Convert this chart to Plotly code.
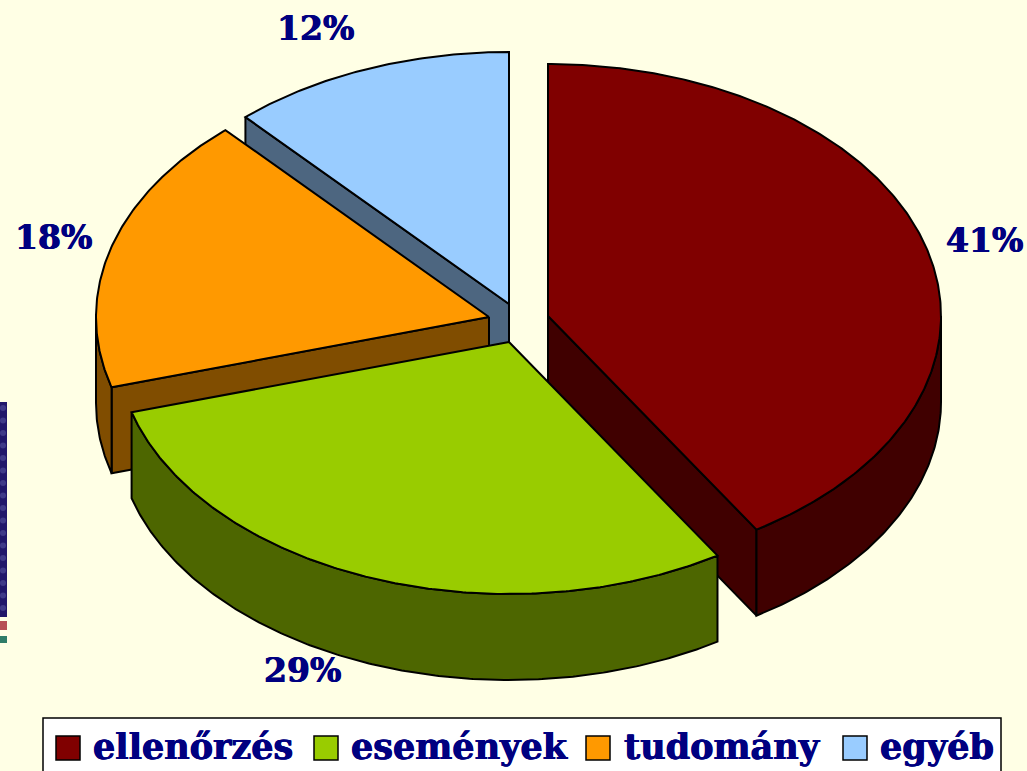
import numpy as np
import plotly.graph_objects as go

categories = ["ellenőrzés", "események", "tudomány", "egyéb"]
values = [41.1, 29.4, 17.8, 11.7]
top_colors = ["#800000", "#99CC00", "#FF9900", "#99CCFF"]
wall_colors = ["#400000", "#4D6600", "#804D00", "#4D6680"]
# apex of each exploded slice, in picture pixels
apex_x = [548, 509, 489, 509]
apex_y = [316, 342, 317, 304]
label_x = [984, 302, 53, 315]
label_y = [240, 670, 237, 28]
legend_swatch_x = [56, 314, 586, 843]
legend_text_x = [91, 349, 622, 878]

RX, RY, DEPTH = 393, 252, 86
BG = "#FFFFE5"
NAVY = "#000080"
HEAVY = "0.6px 0 0 #000080, -0.4px 0 0 #000080"

fig = go.Figure()

def poly(xs, ys, color):
    fig.add_trace(go.Scatter(x=xs, y=ys, mode="lines", fill="toself", fillcolor=color,
                             line=dict(color="black", width=2), hoverinfo="skip", showlegend=False))

def rim(cx, cy, a0, a1):
    t = np.radians(np.linspace(a0, a1, max(3, int(abs(a1 - a0) * 2))))
    return cx + RX * np.sin(t), cy - RY * np.cos(t)

edges = np.concatenate([[0], np.cumsum(values)]) * 3.6

def slice_draw(i):
    a0, a1 = edges[i], edges[i + 1]
    cx, cy, top, wall = apex_x[i], apex_y[i], top_colors[i], wall_colors[i]
    for ang in (a0, a1):
        s = ang % 360
        visible = (ang == a1 and 0 < s < 180) or (ang == a0 and 180 < s < 360)
        if visible:
            ex, ey = rim(cx, cy, ang, ang)
            ex, ey = ex[0], ey[0]
            poly([cx, ex, ex, cx, cx], [cy, ey, ey + DEPTH, cy + DEPTH, cy], wall)
    # outer wall: the lower half of the rim only
    lo, hi = max(a0, 90), min(a1, 270)
    if lo < hi:
        rx_, ry_ = rim(cx, cy, lo, hi)
        poly(np.concatenate([rx_, rx_[::-1], rx_[:1]]),
             np.concatenate([ry_, ry_[::-1] + DEPTH, ry_[:1]]), wall)
    rx_, ry_ = rim(cx, cy, a0, a1)
    poly(np.concatenate([[cx], rx_, [cx]]), np.concatenate([[cy], ry_, [cy]]), top)

for i in [3, 2, 0, 1]:
    slice_draw(i)

# faint texture of the decorative strip at the left edge
strip_y = np.arange(408, 616, 12.5)
fig.add_trace(go.Scatter(x=np.full(strip_y.shape, 3), y=strip_y, mode="markers",
                         marker=dict(size=6, color="#3F3A88"), hoverinfo="skip", showlegend=False))

annotations = []
for i, v in enumerate(values):
    annotations.append(dict(x=label_x[i], y=label_y[i], text=f"{round(v)}%", showarrow=False,
                            xanchor="center", yanchor="middle",
                            font=dict(family="DejaVu Serif", size=33, color=NAVY, weight="bold", shadow=HEAVY)))
shapes = [dict(type="rect", x0=43, x1=1001, y0=718, y1=790, fillcolor="white",
               line=dict(color="black", width=1.5), layer="above")]
for i, c in enumerate(categories):
    shapes.append(dict(type="rect", x0=legend_swatch_x[i], x1=legend_swatch_x[i] + 24, y0=736, y1=760,
                       fillcolor=top_colors[i], line=dict(color="black", width=1.5), layer="above"))
    annotations.append(dict(x=legend_text_x[i], y=746, text=c, showarrow=False, xanchor="left",
                            yanchor="middle",
                            font=dict(family="DejaVu Serif", size=35, color=NAVY, weight="bold", shadow=HEAVY)))
shapes += [
    dict(type="rect", x0=0, x1=7, y0=402, y1=617, fillcolor="#21176A", line_width=0, layer="below"),
    dict(type="rect", x0=0, x1=7, y0=621, y1=630, fillcolor="#B84F55", line_width=0, layer="above"),
    dict(type="rect", x0=0, x1=7, y0=636, y1=643, fillcolor="#2F7D68", line_width=0, layer="above"),
]

fig.update_layout(
    width=1027, height=771, margin=dict(l=0, r=0, t=0, b=0), autosize=False,
    paper_bgcolor=BG, plot_bgcolor=BG, showlegend=False,
    xaxis=dict(range=[0, 1027], visible=False, fixedrange=True),
    yaxis=dict(range=[771, 0], visible=False, fixedrange=True),
    shapes=shapes, annotations=annotations,
)
fig.write_html("out.html", config={"displayModeBar": False},
               post_script="document.body.style.margin='0';document.documentElement.style.overflow='hidden';document.body.style.background='%s';" % BG)
